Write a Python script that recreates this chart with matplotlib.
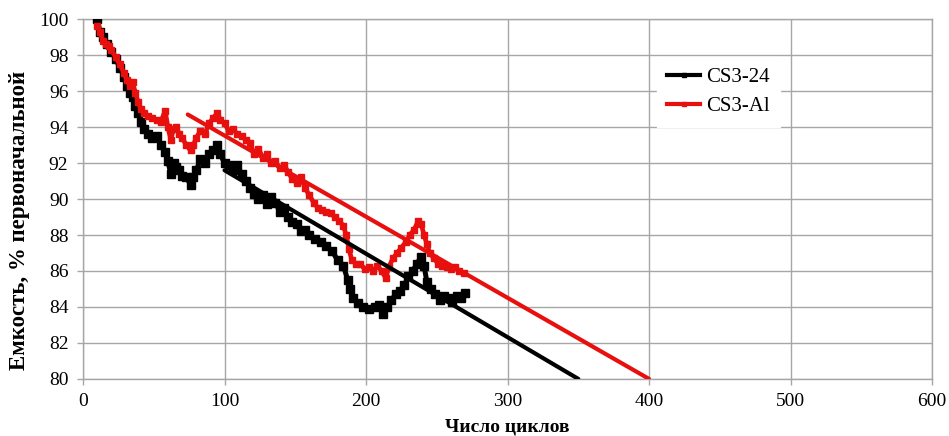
import matplotlib
matplotlib.use("Agg")
import matplotlib.pyplot as plt

# Capacity retention vs. cycle number for two cells
cycles_cs324 = [10, 12, 14, 17, 20, 23, 26, 29, 31, 33, 35, 37, 39, 41, 43, 46, 49, 52, 55, 58,
                60, 62, 64, 66, 68, 70, 73, 76, 78, 80, 83, 86, 89, 92, 95, 97, 100, 103, 106, 109,
                112, 115, 118, 121, 124, 127, 130, 133, 136, 139, 142, 145, 148, 151, 154, 157, 160,
                164, 168, 172, 176, 180, 184, 187, 189, 191, 194, 198, 202, 206, 209, 212, 215, 218,
                221, 224, 227, 230, 233, 236, 239, 241, 243, 246, 249, 252, 255, 258, 261, 264, 267, 270]
capacity_cs324 = [100.0, 99.3, 99.0, 98.6, 98.2, 97.8, 97.3, 96.8, 96.3, 95.9, 95.7, 95.2, 94.8, 94.3,
                  93.9, 93.6, 93.4, 93.5, 93.0, 92.6, 92.1, 91.4, 92.0, 91.8, 91.6, 91.3, 91.2, 90.8,
                  91.2, 91.6, 92.2, 92.0, 92.5, 92.7, 93.0, 92.5, 92.0, 91.9, 91.6, 91.9, 91.4, 91.0,
                  90.6, 90.3, 90.0, 90.2, 89.7, 90.1, 89.8, 89.3, 89.5, 89.0, 88.7, 88.6, 88.2, 88.3,
                  88.0, 87.8, 87.6, 87.4, 87.1, 86.6, 86.3, 85.5, 85.0, 84.5, 84.2, 84.0, 83.9, 84.0,
                  84.1, 83.6, 84.0, 84.4, 84.7, 84.9, 85.2, 85.7, 86.0, 86.4, 86.8, 86.3, 85.4, 85.0,
                  84.7, 84.4, 84.6, 84.5, 84.3, 84.6, 84.5, 84.8]

cycles_cs3al = [10, 12, 14, 16, 18, 20, 23, 26, 29, 31, 33, 35, 37, 39, 41, 43, 46, 49, 52, 55, 58,
                60, 62, 64, 66, 68, 70, 73, 76, 78, 80, 83, 86, 89, 92, 95, 97, 100, 103, 106, 109,
                112, 115, 118, 121, 124, 127, 130, 133, 136, 139, 142, 145, 148, 151, 154, 157, 160,
                163, 166, 169, 172, 175, 178, 181, 184, 186, 188, 190, 193, 196, 199, 202, 205, 208,
                211, 214, 216, 219, 222, 225, 228, 231, 234, 237, 239, 241, 243, 245, 248, 251, 254,
                257, 260, 263, 266, 269]
capacity_cs3al = [99.6, 99.3, 98.8, 98.6, 98.5, 98.3, 97.9, 97.5, 97.0, 96.6, 96.3, 96.5, 95.9, 95.4,
                  95.0, 94.8, 94.6, 94.5, 94.4, 94.3, 94.9, 94.0, 93.3, 93.9, 94.0, 93.6, 93.4, 93.0,
                  92.7, 93.0, 93.4, 93.8, 93.6, 94.2, 94.5, 94.8, 94.4, 94.2, 93.8, 93.9, 93.6, 93.5,
                  93.3, 93.1, 92.5, 92.8, 92.3, 92.5, 92.0, 92.1, 91.7, 91.9, 91.5, 91.1, 90.9, 91.2,
                  90.6, 90.2, 89.8, 89.5, 89.4, 89.3, 89.2, 89.0, 88.8, 88.5, 88.0, 87.2, 86.6, 86.4,
                  86.4, 86.1, 86.2, 86.0, 86.3, 86.0, 85.6, 86.2, 86.7, 87.0, 87.3, 87.6, 88.0, 88.3,
                  88.8, 88.6, 88.0, 87.5, 87.0, 86.7, 86.4, 86.3, 86.2, 86.1, 86.2, 86.0, 85.9]

# Linear trends extrapolated down to 80 %
trend_cs324_x = [100, 350]
trend_cs324_y = [91.6, 80.0]
trend_cs3al_x = [74, 400]
trend_cs3al_y = [94.7, 80.0]

series_labels = ["CS3-24", "CS3-Al"]
x_ticks = [0, 100, 200, 300, 400, 500, 600]
y_ticks = [80, 82, 84, 86, 88, 90, 92, 94, 96, 98, 100]

plt.rcParams["font.family"] = ["Liberation Serif", "DejaVu Serif"]

fig = plt.figure(figsize=(9.49, 4.36), dpi=100)
ax = fig.add_axes([0.0875, 0.131, 0.8946, 0.825])

grid_color = "#a6a6a6"
red = "#e8100e"
ax.set_xlim(0, 600)
ax.set_ylim(80, 100)
ax.set_xticks(x_ticks)
ax.set_yticks(y_ticks)
ax.grid(True, color=grid_color, linewidth=1.0)
ax.set_axisbelow(True)
for side in ax.spines.values():
    side.set_color(grid_color)
    side.set_linewidth(1.0)
ax.tick_params(axis="both", direction="out", length=4.5, width=1.0, color=grid_color,
               labelsize=14, pad=6)

ax.plot(cycles_cs324, capacity_cs324, color="black", linewidth=3.6, marker="s",
        markersize=6, label=series_labels[0], zorder=3)
ax.plot(cycles_cs3al, capacity_cs3al, color=red, linewidth=3.4, marker="s",
        markersize=4.8, label=series_labels[1], zorder=3)
ax.plot(trend_cs324_x, trend_cs324_y, color="black", linewidth=3.0,
        solid_capstyle="round", zorder=4)
ax.plot(trend_cs3al_x, trend_cs3al_y, color=red, linewidth=3.0,
        solid_capstyle="round", zorder=4)

ax.set_xlabel("Число циклов", fontsize=14, fontweight="bold", va="center")
ax.xaxis.set_label_coords(0.5, -0.135)
ax.set_ylabel("Емкость, % первоначальной", fontsize=16.5, fontweight="bold", va="center")
ax.yaxis.set_label_coords(-0.0745, 0.44)

leg = ax.legend(loc="upper left", bbox_to_anchor=(0.676, 0.894), borderaxespad=0,
                frameon=True, fancybox=False, edgecolor="white", facecolor="white",
                framealpha=1.0, fontsize=15, handlelength=1.55, handletextpad=0.3,
                labelspacing=0.45, borderpad=0.5, markerscale=0.6)
for line in leg.get_lines():
    line.set_linewidth(3.0)

fig.savefig("out.png", dpi=100, facecolor="white")
